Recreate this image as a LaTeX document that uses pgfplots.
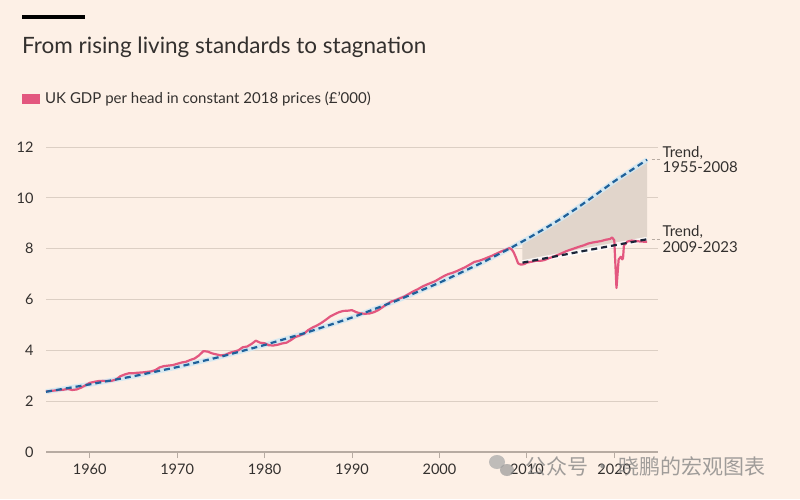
\documentclass[border=0pt]{standalone}
\usepackage{fontspec}
\setmainfont{Lato}
\newfontfamily\cjk{Noto Sans CJK SC}
\usepackage{pgfplots}
\pgfplotsset{compat=1.18}

\definecolor{paper}{HTML}{FDF0E6}
\definecolor{gridc}{HTML}{DCCFC4}
\definecolor{axisc}{HTML}{B7ABA2}
\definecolor{txt}{HTML}{33302E}
\definecolor{ukpink}{HTML}{E3577F}
\definecolor{trendblue}{HTML}{1F619A}
\definecolor{trendnavy}{HTML}{1B2538}
\definecolor{halo}{HTML}{D3E8F2}
\definecolor{gapfill}{HTML}{E1D5CB}

\begin{document}
\begin{tikzpicture}[x=1pt,y=1pt]
\fill[paper] (0,0) rectangle (800,499);
\path[use as bounding box] (0,0) rectangle (800,499);

% header
\fill[black] (22,480) rectangle (85,484);
\node[anchor=base west, inner sep=0, text=txt, font=\fontsize{22.5}{26}\selectfont]
  at (22,445) {From rising living standards to stagnation};
\fill[ukpink] (22,395) rectangle (40,405);
\node[anchor=west, inner sep=0, text=txt, font=\fontsize{15}{17}\selectfont]
  at (45,400) {UK GDP per head in constant 2018 prices (£'000)};

\begin{axis}[
  at={(46pt,47pt)}, anchor=south west,
  scale only axis, width=612pt, height=305pt,
  xmin=1955, xmax=2025, ymin=0, ymax=12,
  axis line style={draw=none},
  clip=false,
  xtick={1960,1970,...,2020},
  ytick={0,2,...,12},
  xtick pos=lower, tick align=outside,
  major tick length=6pt,
  xtick style={draw=axisc, line width=0.8pt},
  ytick style={draw=none},
  ymajorgrids, grid style={draw=gridc, line width=1pt},
  tick label style={text=txt, font=\fontsize{14.5}{17}\selectfont},
  /pgf/number format/assume math mode=true,
  xticklabel style={/pgf/number format/1000 sep={}, yshift=-2pt},
  yticklabel style={xshift=-3pt},
]
\draw[axisc, line width=1.2pt] (axis cs:1955,0) -- (axis cs:2025,0);

% gap between the two trends
\addplot[fill=gapfill, draw=none] coordinates {
  (2009.5,8.30) (2010,8.38) (2012,8.78) (2014,9.20) (2016,9.66) (2018,10.15)
  (2020,10.65) (2022,11.10) (2023.75,11.50)
  (2023.75,8.37) (2016.5,7.91) (2009.5,7.45)
} -- cycle;

% halos
\addplot[halo, line width=5pt, opacity=0.9] coordinates {
  (1955,2.37) (1960,2.66) (1965,2.98) (1970,3.34) (1975,3.75) (1980,4.21)
  (1985,4.72) (1990,5.29) (1995,5.94) (2000,6.66) (2005,7.47) (2008,8.00)
  (2010,8.38) (2012,8.78) (2014,9.20) (2016,9.66) (2018,10.15)
  (2020,10.65) (2022,11.10) (2023.75,11.50)};
\addplot[white, line width=5pt, opacity=0.8] coordinates {
  (2009.5,7.45) (2016.5,7.91) (2023.75,8.37)};

% UK GDP per head
\addplot[ukpink, line width=2.2pt, line join=round] coordinates {
  (1955.0,2.38) (1955.5,2.40) (1956.0,2.42) (1956.5,2.44) (1957.0,2.45)
  (1957.5,2.48) (1958.0,2.44) (1958.5,2.46) (1959.0,2.53) (1959.5,2.62)
  (1960.0,2.72) (1960.5,2.76) (1961.0,2.79) (1961.5,2.80) (1962.0,2.79)
  (1962.5,2.80) (1963.0,2.85) (1963.5,2.98) (1964.0,3.05) (1964.5,3.10)
  (1965.0,3.10) (1965.5,3.12) (1966.0,3.13) (1966.5,3.15) (1967.0,3.17)
  (1967.5,3.22) (1968.0,3.33) (1968.5,3.38) (1969.0,3.40) (1969.5,3.42)
  (1970.0,3.47) (1970.5,3.52) (1971.0,3.55) (1971.5,3.62) (1972.0,3.68)
  (1972.5,3.80) (1973.0,3.97) (1973.5,3.95) (1974.0,3.88) (1974.5,3.84)
  (1975.0,3.80) (1975.5,3.82) (1976.0,3.90) (1976.5,3.95) (1977.0,4.00)
  (1977.5,4.12) (1978.0,4.15) (1978.5,4.25) (1979.0,4.38) (1979.5,4.30)
  (1980.0,4.28) (1980.5,4.20) (1981.0,4.19) (1981.5,4.22) (1982.0,4.27)
  (1982.5,4.30) (1983.0,4.40) (1983.5,4.52) (1984.0,4.58) (1984.5,4.65)
  (1985.0,4.80) (1985.5,4.90) (1986.0,4.98) (1986.5,5.08) (1987.0,5.20)
  (1987.5,5.33) (1988.0,5.42) (1988.5,5.50) (1989.0,5.55) (1989.5,5.56)
  (1990.0,5.58) (1990.5,5.50) (1991.0,5.45) (1991.5,5.44) (1992.0,5.45)
  (1992.5,5.50) (1993.0,5.58) (1993.5,5.70) (1994.0,5.82) (1994.5,5.92)
  (1995.0,5.98) (1995.5,6.05) (1996.0,6.12) (1996.5,6.22) (1997.0,6.32)
  (1997.5,6.40) (1998.0,6.50) (1998.5,6.58) (1999.0,6.65) (1999.5,6.72)
  (2000.0,6.82) (2000.5,6.92) (2001.0,7.00) (2001.5,7.05) (2002.0,7.12)
  (2002.5,7.20) (2003.0,7.28) (2003.5,7.38) (2004.0,7.48) (2004.5,7.52)
  (2005.0,7.58) (2005.5,7.65) (2006.0,7.72) (2006.5,7.80) (2007.0,7.88)
  (2007.5,7.95) (2008.0,8.02) (2008.25,7.98) (2008.5,7.85) (2008.75,7.65)
  (2009.0,7.42) (2009.25,7.38) (2009.5,7.38) (2009.75,7.40) (2010.0,7.45)
  (2010.5,7.48) (2011.0,7.52) (2011.5,7.52) (2012.0,7.55) (2012.5,7.62)
  (2013.0,7.68) (2013.5,7.75) (2014.0,7.82) (2014.5,7.90) (2015.0,7.96)
  (2015.5,8.02) (2016.0,8.08) (2016.5,8.13) (2017.0,8.20) (2017.5,8.24)
  (2018.0,8.27) (2018.5,8.30) (2019.0,8.35) (2019.5,8.38) (2019.75,8.44)
  (2020.0,8.33) (2020.25,6.45) (2020.5,7.58) (2020.75,7.68) (2020.9,7.58)
  (2021.0,7.62) (2021.1,8.12) (2021.5,8.28) (2022.0,8.32) (2022.5,8.30)
  (2023.0,8.28) (2023.75,8.27)};

% trends
\addplot[trendblue, line width=2.2pt, dash pattern=on 6pt off 4pt] coordinates {
  (1955,2.37) (1960,2.66) (1965,2.98) (1970,3.34) (1975,3.75) (1980,4.21)
  (1985,4.72) (1990,5.29) (1995,5.94) (2000,6.66) (2005,7.47) (2008,8.00)
  (2010,8.38) (2012,8.78) (2014,9.20) (2016,9.66) (2018,10.15)
  (2020,10.65) (2022,11.10) (2023.75,11.50)};
\addplot[trendnavy, line width=2.2pt, dash pattern=on 6pt off 4pt] coordinates {
  (2009.5,7.45) (2016.5,7.91) (2023.75,8.37)};

% labels
\draw[axisc, line width=0.8pt, dash pattern=on 3pt off 2pt] (axis cs:2024.3,11.50) -- (axis cs:2025.2,11.50);
\draw[axisc, line width=0.8pt, dash pattern=on 3pt off 2pt] (axis cs:2024.3,8.37) -- (axis cs:2025.2,8.37);
\node[anchor=west, align=left, inner sep=0, text=txt, font=\fontsize{15}{15.5}\selectfont]
  at (axis cs:2025.5,11.50) {Trend,\\1955-2008};
\node[anchor=west, align=left, inner sep=0, text=txt, font=\fontsize{15}{15.5}\selectfont]
  at (axis cs:2025.5,8.37) {Trend,\\2009-2023};
\end{axis}

% watermark
\fill[gray!70, opacity=0.7] (497,37) ellipse (8 and 7);
\fill[gray!80, opacity=0.7] (507,29) ellipse (7 and 6);
\node[anchor=west, inner sep=0, text=gray, opacity=0.75, font=\cjk\fontsize{21}{24}\selectfont]
  at (525,33) {公众号 · 晓鹏的宏观图表};
\end{tikzpicture}
\end{document}
